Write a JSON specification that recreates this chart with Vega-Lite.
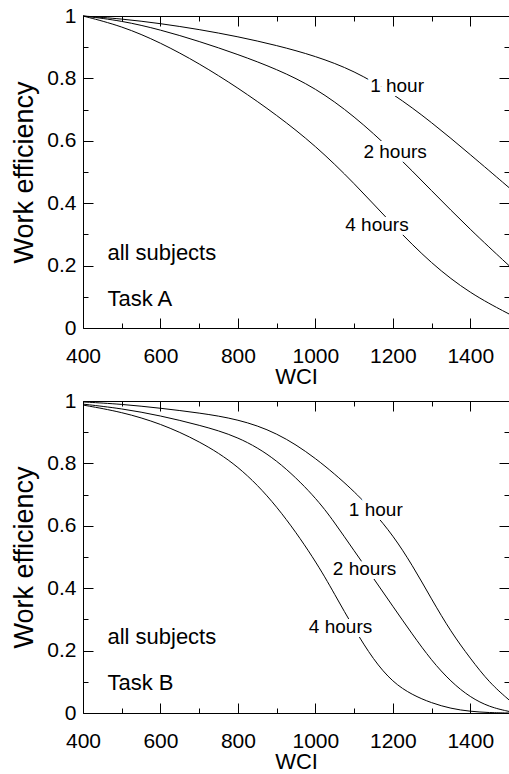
{
  "$schema": "https://vega.github.io/schema/vega-lite/v6.json",
  "padding": {"left": 10, "top": 5, "right": 0, "bottom": 0},
  "background": "white",
  "config": {
    "font": "Liberation Sans",
    "view": {"stroke": null},
    "axis": {
      "grid": false,
      "domainColor": "black",
      "tickColor": "black",
      "labelColor": "black",
      "titleColor": "black",
      "titleFontWeight": "normal",
      "labelFlush": false,
      "labelOverlap": false,
      "tickWidth": 1,
      "domainWidth": 1
    }
  },
  "datasets": {
    "curves": [
      {"task": "A", "duration": "1 hour", "wci": 400, "eff": 1.0},
      {"task": "A", "duration": "1 hour", "wci": 500, "eff": 0.991},
      {"task": "A", "duration": "1 hour", "wci": 600, "eff": 0.976},
      {"task": "A", "duration": "1 hour", "wci": 700, "eff": 0.957},
      {"task": "A", "duration": "1 hour", "wci": 800, "eff": 0.934},
      {"task": "A", "duration": "1 hour", "wci": 900, "eff": 0.906},
      {"task": "A", "duration": "1 hour", "wci": 1000, "eff": 0.872},
      {"task": "A", "duration": "1 hour", "wci": 1100, "eff": 0.825},
      {"task": "A", "duration": "1 hour", "wci": 1200, "eff": 0.752},
      {"task": "A", "duration": "1 hour", "wci": 1300, "eff": 0.66},
      {"task": "A", "duration": "1 hour", "wci": 1400, "eff": 0.556},
      {"task": "A", "duration": "1 hour", "wci": 1500, "eff": 0.45},
      {"task": "A", "duration": "2 hours", "wci": 400, "eff": 1.0},
      {"task": "A", "duration": "2 hours", "wci": 500, "eff": 0.985},
      {"task": "A", "duration": "2 hours", "wci": 600, "eff": 0.956},
      {"task": "A", "duration": "2 hours", "wci": 700, "eff": 0.919},
      {"task": "A", "duration": "2 hours", "wci": 800, "eff": 0.877},
      {"task": "A", "duration": "2 hours", "wci": 900, "eff": 0.83},
      {"task": "A", "duration": "2 hours", "wci": 1000, "eff": 0.77},
      {"task": "A", "duration": "2 hours", "wci": 1100, "eff": 0.68},
      {"task": "A", "duration": "2 hours", "wci": 1200, "eff": 0.567},
      {"task": "A", "duration": "2 hours", "wci": 1300, "eff": 0.44},
      {"task": "A", "duration": "2 hours", "wci": 1400, "eff": 0.315},
      {"task": "A", "duration": "2 hours", "wci": 1500, "eff": 0.2},
      {"task": "A", "duration": "4 hours", "wci": 400, "eff": 1.0},
      {"task": "A", "duration": "4 hours", "wci": 500, "eff": 0.968},
      {"task": "A", "duration": "4 hours", "wci": 600, "eff": 0.915},
      {"task": "A", "duration": "4 hours", "wci": 700, "eff": 0.848},
      {"task": "A", "duration": "4 hours", "wci": 800, "eff": 0.77},
      {"task": "A", "duration": "4 hours", "wci": 900, "eff": 0.683},
      {"task": "A", "duration": "4 hours", "wci": 1000, "eff": 0.585},
      {"task": "A", "duration": "4 hours", "wci": 1100, "eff": 0.465},
      {"task": "A", "duration": "4 hours", "wci": 1200, "eff": 0.33},
      {"task": "A", "duration": "4 hours", "wci": 1300, "eff": 0.205},
      {"task": "A", "duration": "4 hours", "wci": 1400, "eff": 0.11},
      {"task": "A", "duration": "4 hours", "wci": 1500, "eff": 0.045},
      {"task": "B", "duration": "1 hour", "wci": 400, "eff": 0.997},
      {"task": "B", "duration": "1 hour", "wci": 500, "eff": 0.99},
      {"task": "B", "duration": "1 hour", "wci": 600, "eff": 0.977},
      {"task": "B", "duration": "1 hour", "wci": 700, "eff": 0.962},
      {"task": "B", "duration": "1 hour", "wci": 800, "eff": 0.942},
      {"task": "B", "duration": "1 hour", "wci": 900, "eff": 0.9},
      {"task": "B", "duration": "1 hour", "wci": 1000, "eff": 0.82},
      {"task": "B", "duration": "1 hour", "wci": 1100, "eff": 0.712},
      {"task": "B", "duration": "1 hour", "wci": 1150, "eff": 0.645},
      {"task": "B", "duration": "1 hour", "wci": 1200, "eff": 0.57},
      {"task": "B", "duration": "1 hour", "wci": 1250, "eff": 0.475},
      {"task": "B", "duration": "1 hour", "wci": 1300, "eff": 0.365},
      {"task": "B", "duration": "1 hour", "wci": 1350, "eff": 0.26},
      {"task": "B", "duration": "1 hour", "wci": 1400, "eff": 0.175},
      {"task": "B", "duration": "1 hour", "wci": 1450, "eff": 0.096},
      {"task": "B", "duration": "1 hour", "wci": 1500, "eff": 0.042},
      {"task": "B", "duration": "2 hours", "wci": 400, "eff": 0.99},
      {"task": "B", "duration": "2 hours", "wci": 500, "eff": 0.976},
      {"task": "B", "duration": "2 hours", "wci": 600, "eff": 0.953},
      {"task": "B", "duration": "2 hours", "wci": 700, "eff": 0.923},
      {"task": "B", "duration": "2 hours", "wci": 800, "eff": 0.887},
      {"task": "B", "duration": "2 hours", "wci": 900, "eff": 0.815},
      {"task": "B", "duration": "2 hours", "wci": 1000, "eff": 0.693},
      {"task": "B", "duration": "2 hours", "wci": 1050, "eff": 0.61},
      {"task": "B", "duration": "2 hours", "wci": 1100, "eff": 0.52},
      {"task": "B", "duration": "2 hours", "wci": 1150, "eff": 0.432},
      {"task": "B", "duration": "2 hours", "wci": 1200, "eff": 0.342},
      {"task": "B", "duration": "2 hours", "wci": 1250, "eff": 0.253},
      {"task": "B", "duration": "2 hours", "wci": 1300, "eff": 0.168},
      {"task": "B", "duration": "2 hours", "wci": 1350, "eff": 0.1},
      {"task": "B", "duration": "2 hours", "wci": 1400, "eff": 0.05},
      {"task": "B", "duration": "2 hours", "wci": 1450, "eff": 0.019},
      {"task": "B", "duration": "2 hours", "wci": 1500, "eff": 0.005},
      {"task": "B", "duration": "4 hours", "wci": 400, "eff": 0.987},
      {"task": "B", "duration": "4 hours", "wci": 500, "eff": 0.965},
      {"task": "B", "duration": "4 hours", "wci": 600, "eff": 0.928},
      {"task": "B", "duration": "4 hours", "wci": 700, "eff": 0.872},
      {"task": "B", "duration": "4 hours", "wci": 800, "eff": 0.795},
      {"task": "B", "duration": "4 hours", "wci": 900, "eff": 0.668},
      {"task": "B", "duration": "4 hours", "wci": 1000, "eff": 0.49},
      {"task": "B", "duration": "4 hours", "wci": 1050, "eff": 0.38},
      {"task": "B", "duration": "4 hours", "wci": 1100, "eff": 0.27},
      {"task": "B", "duration": "4 hours", "wci": 1150, "eff": 0.17},
      {"task": "B", "duration": "4 hours", "wci": 1200, "eff": 0.098},
      {"task": "B", "duration": "4 hours", "wci": 1250, "eff": 0.058},
      {"task": "B", "duration": "4 hours", "wci": 1300, "eff": 0.032},
      {"task": "B", "duration": "4 hours", "wci": 1350, "eff": 0.014},
      {"task": "B", "duration": "4 hours", "wci": 1400, "eff": 0.005},
      {"task": "B", "duration": "4 hours", "wci": 1450, "eff": 0.001},
      {"task": "B", "duration": "4 hours", "wci": 1500, "eff": 0.0}
    ],
    "labels": [
      {"task": "A", "text": "1 hour", "wci": 1211, "eff": 0.755},
      {"task": "A", "text": "2 hours", "wci": 1206, "eff": 0.545},
      {"task": "A", "text": "4 hours", "wci": 1159, "eff": 0.312},
      {"task": "B", "text": "1 hour", "wci": 1156, "eff": 0.631},
      {"task": "B", "text": "2 hours", "wci": 1127, "eff": 0.442},
      {"task": "B", "text": "4 hours", "wci": 1065, "eff": 0.255}
    ],
    "notes": [
      {"task": "A", "text": "all subjects", "wci": 463, "eff": 0.218},
      {"task": "A", "text": "Task A", "wci": 463, "eff": 0.072},
      {"task": "B", "text": "all subjects", "wci": 463, "eff": 0.22},
      {"task": "B", "text": "Task B", "wci": 463, "eff": 0.074}
    ]
  },
  "bounds": "flush",
  "spacing": 73,
  "vconcat": [
    {
      "width": 426,
      "height": 312,
      "layer": [
        {
          "data": {"name": "curves"},
          "transform": [{"filter": "datum.task === 'A'"}],
          "mark": {"type": "line", "color": "black", "strokeWidth": 1, "interpolate": "basis"},
          "encoding": {
            "x": {"field": "wci", "type": "quantitative", "scale": {"domain": [400, 1500], "nice": false, "zero": false},
              "axis": {"orient": "bottom", "values": [400, 600, 800, 1000, 1200, 1400], "format": "d", "tickSize": -10, "labelPadding": 27, "labelFontSize": 21, "title": "WCI", "titleFontSize": 22, "titlePadding": 0}},
            "y": {"field": "eff", "type": "quantitative", "scale": {"domain": [0, 1], "nice": false},
              "axis": {"orient": "left", "values": [0, 0.2, 0.4, 0.6, 0.8, 1], "format": "~g", "tickSize": -10, "labelPadding": 17, "labelFontSize": 21, "title": "Work efficiency", "titleFontSize": 27, "titlePadding": 8}},
            "detail": {"field": "duration"}
          }
        },
        {
          "data": {"name": "labels"},
          "transform": [{"filter": "datum.task === 'A'"}],
          "mark": {"type": "text", "fontSize": 19, "align": "center", "baseline": "alphabetic", "fill": "white", "stroke": "white", "strokeWidth": 8},
          "encoding": {
            "x": {"field": "wci", "type": "quantitative", "scale": {"domain": [400, 1500], "nice": false, "zero": false},
              "axis": {"orient": "bottom", "values": [500, 700, 900, 1100, 1300, 1500], "tickSize": -5, "labels": false, "domain": false, "title": null}},
            "y": {"field": "eff", "type": "quantitative", "scale": {"domain": [0, 1], "nice": false},
              "axis": {"orient": "left", "values": [0.1, 0.3, 0.5, 0.7, 0.9], "tickSize": -5, "labels": false, "domain": false, "title": null}},
            "text": {"field": "text"}
          }
        },
        {
          "data": {"name": "labels"},
          "transform": [{"filter": "datum.task === 'A'"}],
          "mark": {"type": "text", "fontSize": 19, "align": "center", "baseline": "alphabetic", "color": "black"},
          "encoding": {
            "x": {"field": "wci", "type": "quantitative", "scale": {"domain": [400, 1500], "nice": false, "zero": false},
              "axis": {"orient": "top", "values": [400, 600, 800, 1000, 1200, 1400], "tickSize": -10, "labels": false, "title": null}},
            "y": {"field": "eff", "type": "quantitative", "scale": {"domain": [0, 1], "nice": false},
              "axis": {"orient": "right", "values": [0, 0.2, 0.4, 0.6, 0.8, 1], "tickSize": -10, "labels": false, "title": null}},
            "text": {"field": "text"}
          }
        },
        {
          "data": {"name": "notes"},
          "transform": [{"filter": "datum.task === 'A'"}],
          "mark": {"type": "text", "fontSize": 22, "align": "left", "baseline": "alphabetic", "color": "black"},
          "encoding": {
            "x": {"field": "wci", "type": "quantitative", "scale": {"domain": [400, 1500], "nice": false, "zero": false},
              "axis": {"orient": "top", "values": [500, 700, 900, 1100, 1300, 1500], "tickSize": -5, "labels": false, "domain": false, "title": null}},
            "y": {"field": "eff", "type": "quantitative", "scale": {"domain": [0, 1], "nice": false},
              "axis": {"orient": "right", "values": [0.1, 0.3, 0.5, 0.7, 0.9], "tickSize": -5, "labels": false, "domain": false, "title": null}},
            "text": {"field": "text"}
          }
        }
      ],
      "resolve": {"axis": {"x": "independent", "y": "independent"}}
    },
    {
      "width": 426,
      "height": 312,
      "layer": [
        {
          "data": {"name": "curves"},
          "transform": [{"filter": "datum.task === 'B'"}],
          "mark": {"type": "line", "color": "black", "strokeWidth": 1, "interpolate": "basis"},
          "encoding": {
            "x": {"field": "wci", "type": "quantitative", "scale": {"domain": [400, 1500], "nice": false, "zero": false},
              "axis": {"orient": "bottom", "values": [400, 600, 800, 1000, 1200, 1400], "format": "d", "tickSize": -10, "labelPadding": 27, "labelFontSize": 21, "title": "WCI", "titleFontSize": 22, "titlePadding": 0}},
            "y": {"field": "eff", "type": "quantitative", "scale": {"domain": [0, 1], "nice": false},
              "axis": {"orient": "left", "values": [0, 0.2, 0.4, 0.6, 0.8, 1], "format": "~g", "tickSize": -10, "labelPadding": 17, "labelFontSize": 21, "title": "Work efficiency", "titleFontSize": 27, "titlePadding": 8}},
            "detail": {"field": "duration"}
          }
        },
        {
          "data": {"name": "labels"},
          "transform": [{"filter": "datum.task === 'B'"}],
          "mark": {"type": "text", "fontSize": 19, "align": "center", "baseline": "alphabetic", "fill": "white", "stroke": "white", "strokeWidth": 8},
          "encoding": {
            "x": {"field": "wci", "type": "quantitative", "scale": {"domain": [400, 1500], "nice": false, "zero": false},
              "axis": {"orient": "bottom", "values": [500, 700, 900, 1100, 1300, 1500], "tickSize": -5, "labels": false, "domain": false, "title": null}},
            "y": {"field": "eff", "type": "quantitative", "scale": {"domain": [0, 1], "nice": false},
              "axis": {"orient": "left", "values": [0.1, 0.3, 0.5, 0.7, 0.9], "tickSize": -5, "labels": false, "domain": false, "title": null}},
            "text": {"field": "text"}
          }
        },
        {
          "data": {"name": "labels"},
          "transform": [{"filter": "datum.task === 'B'"}],
          "mark": {"type": "text", "fontSize": 19, "align": "center", "baseline": "alphabetic", "color": "black"},
          "encoding": {
            "x": {"field": "wci", "type": "quantitative", "scale": {"domain": [400, 1500], "nice": false, "zero": false},
              "axis": {"orient": "top", "values": [400, 600, 800, 1000, 1200, 1400], "tickSize": -10, "labels": false, "title": null}},
            "y": {"field": "eff", "type": "quantitative", "scale": {"domain": [0, 1], "nice": false},
              "axis": {"orient": "right", "values": [0, 0.2, 0.4, 0.6, 0.8, 1], "tickSize": -10, "labels": false, "title": null}},
            "text": {"field": "text"}
          }
        },
        {
          "data": {"name": "notes"},
          "transform": [{"filter": "datum.task === 'B'"}],
          "mark": {"type": "text", "fontSize": 22, "align": "left", "baseline": "alphabetic", "color": "black"},
          "encoding": {
            "x": {"field": "wci", "type": "quantitative", "scale": {"domain": [400, 1500], "nice": false, "zero": false},
              "axis": {"orient": "top", "values": [500, 700, 900, 1100, 1300, 1500], "tickSize": -5, "labels": false, "domain": false, "title": null}},
            "y": {"field": "eff", "type": "quantitative", "scale": {"domain": [0, 1], "nice": false},
              "axis": {"orient": "right", "values": [0.1, 0.3, 0.5, 0.7, 0.9], "tickSize": -5, "labels": false, "domain": false, "title": null}},
            "text": {"field": "text"}
          }
        }
      ],
      "resolve": {"axis": {"x": "independent", "y": "independent"}}
    }
  ]
}
